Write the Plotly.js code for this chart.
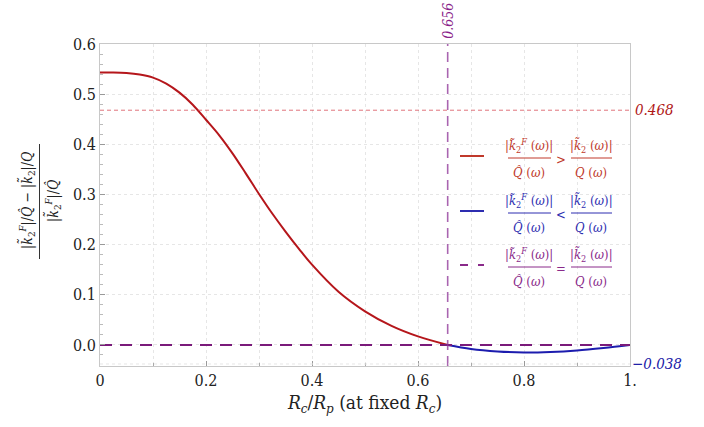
<!DOCTYPE html>
<html>
<head>
<meta charset="utf-8">
<script src="https://cdn.plot.ly/plotly-3.0.1.min.js"></script>
<style>html,body{margin:0;padding:0;background:#fff;}#chart{width:704px;height:427px;}</style>
</head>
<body>
<div id="chart"></div>
<script>
// ---- data ----
const redX = [0, 0.025, 0.05, 0.075, 0.1, 0.125, 0.15, 0.175, 0.2, 0.225, 0.25, 0.275, 0.3, 0.325, 0.35, 0.375, 0.4, 0.45, 0.5, 0.55, 0.6, 0.656];
const redY = [0.543, 0.543, 0.542, 0.539, 0.533, 0.521, 0.503, 0.479, 0.449, 0.418, 0.382, 0.342, 0.301, 0.262, 0.226, 0.192, 0.160, 0.106, 0.067, 0.038, 0.017, 0.0];
const blueX = [0.656, 0.7, 0.75, 0.8, 0.85, 0.9, 0.95, 1.0];
const blueY = [0.0, -0.008, -0.013, -0.015, -0.014, -0.011, -0.006, 0.0];
const eqX = [0, 1];
const eqY = [0, 0];
const markX = 0.656;      // vertical reference
const markY = 0.468;      // horizontal reference
const minLabel = -0.038;  // lower label
const xTickVals = [0, 0.2, 0.4, 0.6, 0.8, 1];
const xTickText = ["0", "0.2", "0.4", "0.6", "0.8", "1."];
const yTickVals = [0, 0.1, 0.2, 0.3, 0.4, 0.5, 0.6];
const yTickText = ["0.0", "0.1", "0.2", "0.3", "0.4", "0.5", "0.6"];

// ---- styling ----
const RED = "#b5161b", BLUE = "#1c1cae", PURPLE = "#7a1a7a";
const LRED = "#c0392b", LBLUE = "#2d2db0", LPURPLE = "#8a2a8a";
const FONT = "DejaVu Serif Condensed";
const W = 704, H = 427;
const M = {l: 100, r: 74, t: 44, b: 61};
const pw = W - M.l - M.r, ph = H - M.t - M.b;
const px = p => (p - M.l) / pw;
const py = p => (H - M.b - p) / ph;

const traces = [
  {x: redX, y: redY, mode: "lines", line: {color: RED, width: 2, shape: "spline", smoothing: 1}, hoverinfo: "skip"},
  {x: blueX, y: blueY, mode: "lines", line: {color: BLUE, width: 2, shape: "spline", smoothing: 1}, hoverinfo: "skip"},
  {x: eqX, y: eqY, mode: "lines", line: {color: PURPLE, width: 2, dash: "12px,8px"}, hoverinfo: "skip"}
];

const shapes = [
  {type: "line", xref: "x", yref: "paper", x0: markX, x1: markX, y0: 0, y1: 1.0,
   line: {color: "rgba(140,50,150,0.75)", width: 1.6, dash: "10px,6px"}},
  {type: "line", xref: "paper", yref: "y", x0: 0, x1: 1, y0: markY, y1: markY,
   line: {color: "rgba(215,70,80,0.75)", width: 1, dash: "4px,3px"}},
  {type: "line", xref: "paper", yref: "y", x0: 0, x1: 1, y0: minLabel, y1: minLabel,
   line: {color: "#e6e6e6", width: 1, dash: "dot"}}
];

const annotations = [
  {xref: "paper", yref: "y", x: 1.005, y: markY, xanchor: "left", yanchor: "middle", showarrow: false,
   text: "<i>" + markY.toFixed(3) + "</i>", font: {family: FONT, size: 15, color: "#b01818"}},
  {xref: "x", yref: "paper", x: markX, y: py(21), xanchor: "center", yanchor: "middle", textangle: -90, showarrow: false,
   text: "<i>" + markX.toFixed(3) + "</i>", font: {family: FONT, size: 14, color: "#8a1f8a"}},
  {xref: "paper", yref: "y", x: 1.0, y: minLabel, xanchor: "left", yanchor: "middle", showarrow: false,
   text: "<i>\u2212" + Math.abs(minLabel).toFixed(3) + "</i>", font: {family: FONT, size: 15, color: "#2020a8"}}
];

// legend (fractions)
const kF = "|<i>k\u0303</i><sub>2</sub><sup><i>F</i></sup> (<i>\u03c9</i>)|";
const kk = "|<i>k\u0303</i><sub>2</sub> (<i>\u03c9</i>)|";
const Qh = "<i>Q\u0302</i> (<i>\u03c9</i>)";
const Qq = "<i>Q</i> (<i>\u03c9</i>)";
const legend = [
  {bar: 158, col: LRED, sign: ">", dash: "solid"},
  {bar: 213, col: LBLUE, sign: "<", dash: "solid"},
  {bar: 267, col: LPURPLE, sign: "=", dash: "8px,10px"}
];
legend.forEach(e => {
  shapes.push({type: "line", xref: "paper", yref: "paper", x0: px(460), x1: px(484), y0: py(e.bar - 2), y1: py(e.bar - 2),
    line: {color: e.col, width: 2, dash: e.dash}});
  shapes.push({type: "line", xref: "paper", yref: "paper", x0: px(508), x1: px(551), y0: py(e.bar), y1: py(e.bar),
    line: {color: e.col, width: 1}});
  shapes.push({type: "line", xref: "paper", yref: "paper", x0: px(571), x1: px(612), y0: py(e.bar), y1: py(e.bar),
    line: {color: e.col, width: 1}});
  const f = {family: FONT, size: 13, color: e.col};
  const a = {xref: "paper", yref: "paper", xanchor: "center", yanchor: "middle", showarrow: false, font: f};
  annotations.push(Object.assign({}, a, {x: px(529), y: py(e.bar - 12), text: kF}));
  annotations.push(Object.assign({}, a, {x: px(529), y: py(e.bar + 14), text: Qh}));
  annotations.push(Object.assign({}, a, {x: px(561), y: py(e.bar + 1), text: e.sign}));
  annotations.push(Object.assign({}, a, {x: px(591), y: py(e.bar - 12), text: kk}));
  annotations.push(Object.assign({}, a, {x: px(591), y: py(e.bar + 14), text: Qq}));
});

// y-axis title as rotated fraction
const ya = {xref: "paper", yref: "paper", xanchor: "center", yanchor: "middle", textangle: -90, showarrow: false,
  font: {family: FONT, size: 14, color: "#222"}};
annotations.push(Object.assign({}, ya, {x: px(27), y: py(201),
  text: "|<i>k\u0303</i><sub>2</sub><sup><i>F</i></sup>|/<i>Q\u0302</i> \u2212 |<i>k\u0303</i><sub>2</sub>|/<i>Q</i>"}));
annotations.push(Object.assign({}, ya, {x: px(53), y: py(201),
  text: "|<i>k\u0303</i><sub>2</sub><sup><i>F</i></sup>|/<i>Q\u0302</i>"}));
shapes.push({type: "line", xref: "paper", yref: "paper", x0: px(39.5), x1: px(39.5), y0: py(144), y1: py(259),
  line: {color: "#333", width: 1}});

const layout = {
  width: W, height: H,
  margin: M,
  paper_bgcolor: "#fff", plot_bgcolor: "#fff",
  showlegend: false,
  font: {family: FONT, size: 16, color: "#222"},
  xaxis: {
    range: [0, 1], tickvals: xTickVals, ticktext: xTickText,
    showline: true, mirror: true, linecolor: "#c8c8c8", linewidth: 1,
    ticks: "inside", ticklen: 5, tickcolor: "#999",
    showgrid: true, gridcolor: "#e6e6e6", griddash: "dot", zeroline: false,
    minor: {dtick: 0.1, tick0: 0, showgrid: true, gridcolor: "#e6e6e6", griddash: "dot", ticks: "inside", ticklen: 3, tickcolor: "#aaa"},
    tickfont: {family: FONT, size: 16, color: "#222"},
    title: {text: "<i>R<sub>c</sub></i>/<i>R<sub>p</sub></i> (at fixed <i>R<sub>c</sub></i>)",
      font: {family: FONT, size: 19, color: "#222"}, standoff: 6}
  },
  yaxis: {
    range: [-0.042, 0.6], tickvals: yTickVals, ticktext: yTickText,
    showline: true, mirror: true, linecolor: "#c8c8c8", linewidth: 1,
    ticks: "inside", ticklen: 5, tickcolor: "#999",
    showgrid: true, gridcolor: "#e6e6e6", griddash: "dot", zeroline: false,
    minor: {dtick: 0.02, tick0: 0, showgrid: false, ticks: "inside", ticklen: 3, tickcolor: "#bbb"},
    tickfont: {family: FONT, size: 16, color: "#222"}
  },
  shapes: shapes,
  annotations: annotations
};

Plotly.newPlot("chart", traces, layout, {displayModeBar: false, staticPlot: true});
</script>
</body>
</html>
